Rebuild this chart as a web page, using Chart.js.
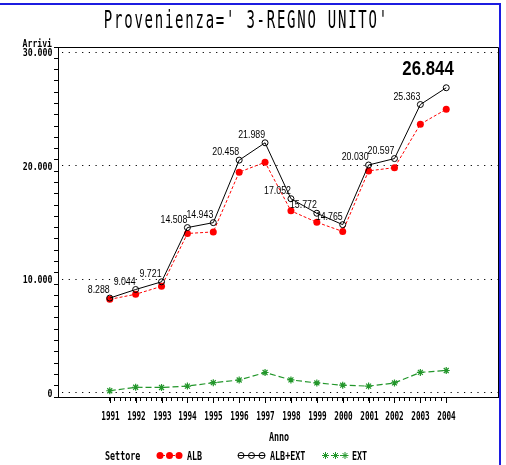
<!DOCTYPE html>
<html>
<head>
<meta charset="utf-8">
<script src="https://cdn.jsdelivr.net/npm/chart.js@4/dist/chart.umd.min.js"></script>
<style>
    html, body { margin: 0; padding: 0; background: #fff; }
    canvas { display: block; }
</style>
</head>
<body>
<canvas id="chart" width="506" height="465"></canvas>
<script>
const years = [1991, 1992, 1993, 1994, 1995, 1996, 1997, 1998, 1999, 2000, 2001, 2002, 2003, 2004];

const totale = [8288, 9044, 9721, 14508, 14943, 20458, 21989, 17052, 15772, 14765, 20030, 20597, 25363, 26844];

const ext = [110, 420, 400, 520, 820, 1060, 1720, 1070, 800, 600, 520, 800, 1730, 1900];

const alb = totale.map((v, i) => v - ext[i]);

const yLabels = [0, 10000, 20000, 30000];

const titleText = "Provenienza=' 3-REGNO UNITO'";

const MONO = '"DejaVu Sans Mono", "Liberation Mono", monospace';
const SANS = '"Liberation Sans", Arial, sans-serif';

function fmt(v) {
    return v.toLocaleString("it-IT");
}

// narrow text, like the SAS hardware font
function narrow(ctx, text, x, y, size, sx, align, weight, family) {
    ctx.save();
    ctx.font = (weight || "normal") + " " + size + "px " + (family || MONO);
    ctx.fillStyle = "#000";
    ctx.textBaseline = "alphabetic";
    ctx.textAlign = align;
    ctx.translate(x, y);
    ctx.scale(sx, 1);
    ctx.fillText(text, 0, 0);
    ctx.restore();
}

const decor = {
    id: "decor",

    beforeDatasetsDraw(chart) {
        const ctx = chart.ctx;
        const a = chart.chartArea;
        const ys = chart.scales.y;
        ctx.save();
        ctx.strokeStyle = "#000";
        ctx.lineWidth = 1;

        // dotted reference lines
        ctx.setLineDash([1.2, 5.5]);
        yLabels.forEach(v => {
            const py = Math.round(ys.getPixelForValue(v)) + 0.5;
            ctx.beginPath();
            ctx.moveTo(a.left + 4, py);
            ctx.lineTo(a.right, py);
            ctx.stroke();
        });
        ctx.setLineDash([]);

        // frame top and right
        ctx.beginPath();
        ctx.moveTo(a.left, a.top + 0.5);
        ctx.lineTo(a.right + 0.5, a.top + 0.5);
        ctx.lineTo(a.right + 0.5, a.bottom);
        ctx.stroke();
        ctx.restore();
    },

    afterDraw(chart) {
        const ctx = chart.ctx;
        const xs = chart.scales.x;
        const ys = chart.scales.y;

        // title
        ctx.save();
        ctx.font = "normal 25px " + MONO;
        ctx.fillStyle = "#000";
        ctx.textBaseline = "alphabetic";
        const cell = 10.18;
        const start = 245.5 - cell * titleText.length / 2;
        for (let i = 0; i < titleText.length; i++) {
            ctx.save();
            ctx.translate(start + cell * (i + 0.5), 27.7);
            ctx.scale(0.56, 1);
            ctx.textAlign = "center";
            ctx.fillText(titleText[i], 0, 0);
            ctx.restore();
        }
        ctx.restore();

        // y tick labels and axis name
        yLabels.forEach(v => {
            narrow(ctx, fmt(v), 52.5, ys.getPixelForValue(v) + 4.5, 11, 0.75, "right", "bold");
        });
        narrow(ctx, "Arrivi", 52, 47, 11, 0.74, "right", "bold");

        // x tick labels, longer year ticks, axis name
        ctx.save();
        ctx.strokeStyle = "#000";
        ctx.lineWidth = 1;
        years.forEach(y => {
            const px = Math.round(xs.getPixelForValue(y)) + 0.5;
            ctx.beginPath();
            ctx.moveTo(px, chart.chartArea.bottom);
            ctx.lineTo(px, chart.chartArea.bottom + 6);
            ctx.stroke();
            narrow(ctx, String(y), px, 420, 12, 0.64, "center", "bold");
        });
        ctx.restore();
        narrow(ctx, "Anno", 279, 441, 12, 0.7, "center", "bold");

        // value labels on ALB+EXT
        const meta = chart.getDatasetMeta(0);
        meta.data.forEach((pt, i) => {
            if (i === totale.length - 1) {
                narrow(ctx, fmt(totale[i]), pt.x + 7.5, pt.y - 13, 21, 0.8, "right", "bold", SANS);
            } else {
                narrow(ctx, fmt(totale[i]), pt.x, pt.y - 5, 11, 0.8, "right", "normal", SANS);
            }
        });

        // legend
        const ly = 455.5;
        narrow(ctx, "Settore", 105, 460, 12, 0.7, "left", "bold");
        const items = [
            { ds: 1, x0: 157, x1: 182, xs: [160, 169.5, 179], text: "ALB", tx: 187 },
            { ds: 0, x0: 238, x1: 265, xs: [241, 251.5, 262], text: "ALB+EXT", tx: 270 },
            { ds: 2, x0: 322, x1: 348, xs: [325.5, 335.5, 345], text: "EXT", tx: 352 }
        ];
        items.forEach(it => {
            const d = chart.data.datasets[it.ds];
            ctx.save();
            ctx.strokeStyle = d.borderColor;
            ctx.lineWidth = 1;
            ctx.setLineDash(d.borderDash || []);
            ctx.beginPath();
            ctx.moveTo(it.x0, ly);
            ctx.lineTo(it.x1, ly);
            ctx.stroke();
            ctx.setLineDash([]);
            ctx.fillStyle = d.pointBackgroundColor;
            ctx.strokeStyle = d.pointBorderColor;
            it.xs.forEach(px => {
                Chart.helpers.drawPoint(ctx, {
                    pointStyle: d.pointStyle,
                    radius: d.pointRadius,
                    borderWidth: d.pointBorderWidth,
                    rotation: 0
                }, px, ly);
            });
            ctx.restore();
            narrow(ctx, it.text, it.tx, 460, 12, 0.7, "left", "bold");
        });

        // blue frame
        ctx.save();
        ctx.strokeStyle = "#1c1ce0";
        ctx.lineWidth = 2;
        ctx.beginPath();
        ctx.moveTo(0, 4);
        ctx.lineTo(500, 4);
        ctx.lineTo(500, 465);
        ctx.stroke();
        ctx.restore();
    }
};

new Chart(document.getElementById("chart"), {
    type: "line",

    data: {
        datasets: [
            {
                label: "ALB+EXT",
                data: years.map((y, i) => ({ x: y, y: totale[i] })),
                borderColor: "#000",
                borderWidth: 1,
                pointStyle: "circle",
                pointRadius: 3,
                pointBorderWidth: 1,
                pointBorderColor: "#000",
                pointBackgroundColor: "rgba(255,255,255,0)",
                tension: 0
            },
            {
                label: "ALB",
                data: years.map((y, i) => ({ x: y, y: alb[i] })),
                borderColor: "#ff0000",
                borderWidth: 1,
                borderDash: [3, 2],
                pointStyle: "circle",
                pointRadius: 3.5,
                pointBorderWidth: 0,
                pointBorderColor: "#ff0000",
                pointBackgroundColor: "#ff0000",
                tension: 0
            },
            {
                label: "EXT",
                data: years.map((y, i) => ({ x: y, y: ext[i] })),
                borderColor: "#22962a",
                borderWidth: 1.2,
                borderDash: [6, 3],
                pointStyle: "star",
                pointRadius: 3.5,
                pointBorderWidth: 1.2,
                pointBorderColor: "#22962a",
                pointBackgroundColor: "#22962a",
                tension: 0
            }
        ]
    },

    options: {
        responsive: false,
        animation: false,
        devicePixelRatio: 1,

        layout: {
            padding: { top: 47, right: 8, bottom: 0, left: 0 }
        },

        plugins: {
            legend: { display: false },
            tooltip: { enabled: false }
        },

        scales: {
            x: {
                type: "linear",
                min: 1989,
                max: 2006,
                afterFit: s => { s.height = 68; },
                ticks: {
                    stepSize: 0.2,
                    display: false,
                    autoSkip: false
                },
                grid: {
                    drawOnChartArea: false,
                    tickLength: 4,
                    tickColor: c => (c.tick && c.tick.value >= 1991 && c.tick.value <= 2004) ? "#000" : "rgba(0,0,0,0)"
                },
                border: { color: "#000", width: 1 }
            },

            y: {
                min: -440,
                max: 30440,
                afterFit: s => { s.width = 58; },
                ticks: {
                    stepSize: 1000,
                    includeBounds: false,
                    display: false,
                    autoSkip: false
                },
                grid: {
                    drawOnChartArea: false,
                    tickLength: 4,
                    tickColor: "#000"
                },
                border: { color: "#000", width: 1 }
            }
        }
    },

    plugins: [decor]
});
</script>
</body>
</html>
